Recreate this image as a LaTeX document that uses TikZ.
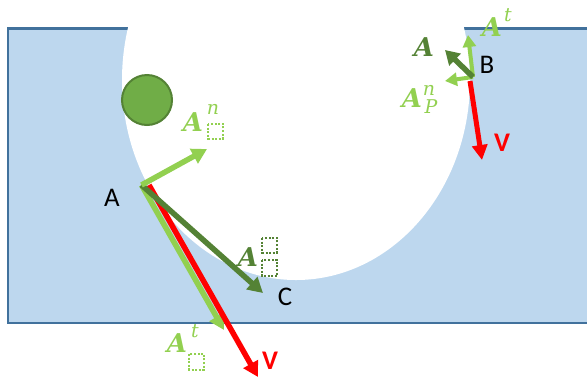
\documentclass[tikz,border=0pt]{standalone}
\usepackage{fontspec}
\setmainfont{Carlito}
\newfontfamily\cambria{DejaVu Serif}
\usetikzlibrary{arrows.meta}
\definecolor{blfill}{HTML}{BDD7EE}
\definecolor{blline}{HTML}{41719C}
\definecolor{lgreen}{HTML}{92D050}
\definecolor{dgreen}{HTML}{548235}
\definecolor{mgreen}{HTML}{70AD47}
\definecolor{vred}{HTML}{FF0000}
\begin{document}
\begin{tikzpicture}[x=1bp,y=-1bp,
  vec/.style={line width=5.5bp,-{Triangle[length=15bp,width=16bp]}},
  smallvec/.style={line width=4bp,-{Triangle[length=12bp,width=13bp]}},
  ptlabel/.style={font=\fontsize{27}{30}\selectfont, inner sep=0},
  vlabel/.style={font=\fontsize{27}{30}\selectfont\bfseries, text=vred, inner sep=0},
  mlabel/.style={font=\fontsize{26}{30}\selectfont\cambria\bfseries\itshape, inner sep=0},
  slabel/.style={font=\fontsize{19}{22}\selectfont\cambria\itshape, inner sep=0},
  phbox/.style={line width=2bp, dash pattern=on 2bp off 1.6bp}
]
\useasboundingbox (0,0) rectangle (587,378);
\clip (0,0) rectangle (587,378);
% body
\draw[fill=blfill, draw=blline, line width=2.2bp] (8,28.5) rectangle (600,323);
\fill[white] (296,80) ellipse [x radius=174bp, y radius=200bp];
\node[circle, fill=mgreen, draw=dgreen, line width=2bp, minimum size=50bp, inner sep=0] (ball) at (147,100) {};
% point A vectors
\coordinate (A) at (141.5,185);
\coordinate (Ar) at (149,185);
\coordinate (An) at (207,149);
\coordinate (C) at (263,293);
\coordinate (AV) at (258,377);
\coordinate (At) at (224,330);
\draw[vec, lgreen] (A) -- (At);
\draw[vec, vred] (Ar) -- (AV);
\draw[vec, dgreen] (A) -- (C);
\draw[vec, lgreen] (A) -- (An);
% point B vectors
\coordinate (B) at (473,77);
\coordinate (Bt) at (468,35);
\coordinate (Bn) at (445,81);
\coordinate (Ba) at (445,50);
\coordinate (BV) at (482,160);
\coordinate (Bv0) at (470,81);
\draw[smallvec, lgreen] (B) -- (Bt);
\draw[smallvec, lgreen] (B) -- (Bn);
\draw[line width=5.5bp,-{Triangle[length=14bp,width=16bp]}, dgreen] (B) -- (Ba);
\draw[line width=5bp,-{Triangle[length=15bp,width=15bp]}, vred] (Bv0) -- (BV);
% point labels
\node[ptlabel] (lA) at (112,198) {A};
\node[ptlabel] (lB) at (487,65) {B};
\node[ptlabel] (lC) at (285,297) {C};
\node[vlabel] (lVA) at (270,361) {V};
\node[vlabel] (lVB) at (502,143) {V};
% vector labels near A
\node[mlabel, text=lgreen] (lAn) at (193,122.5) {A};
\node[slabel, text=lgreen] (lAnn) at (213,109) {n};
\draw[phbox, draw=lgreen] (208,124) rectangle (223,138.5);
\node[mlabel, text=dgreen] (lAc) at (248,257) {A};
\draw[phbox, draw=dgreen] (262,238) rectangle (277,252.5);
\draw[phbox, draw=dgreen] (262,260) rectangle (277,276);
\node[mlabel, text=lgreen] (lAt) at (177,343.5) {A};
\node[slabel, text=lgreen] (lAtt) at (195,331) {t};
\draw[phbox, draw=lgreen] (189,354) rectangle (204,369.5);
% vector labels near B
\node[mlabel, text=dgreen] (lBa) at (424,47.5) {A};
\node[mlabel, text=lgreen] (lBt) at (492,27) {A};
\node[slabel, text=lgreen] (lBtt) at (508,15) {t};
\node[mlabel, text=lgreen] (lBn) at (412,98) {A};
\node[slabel, text=lgreen] (lBnn) at (429,90) {n};
\node[slabel, text=lgreen] (lBnp) at (431,107) {P};
\end{tikzpicture}
\end{document}
